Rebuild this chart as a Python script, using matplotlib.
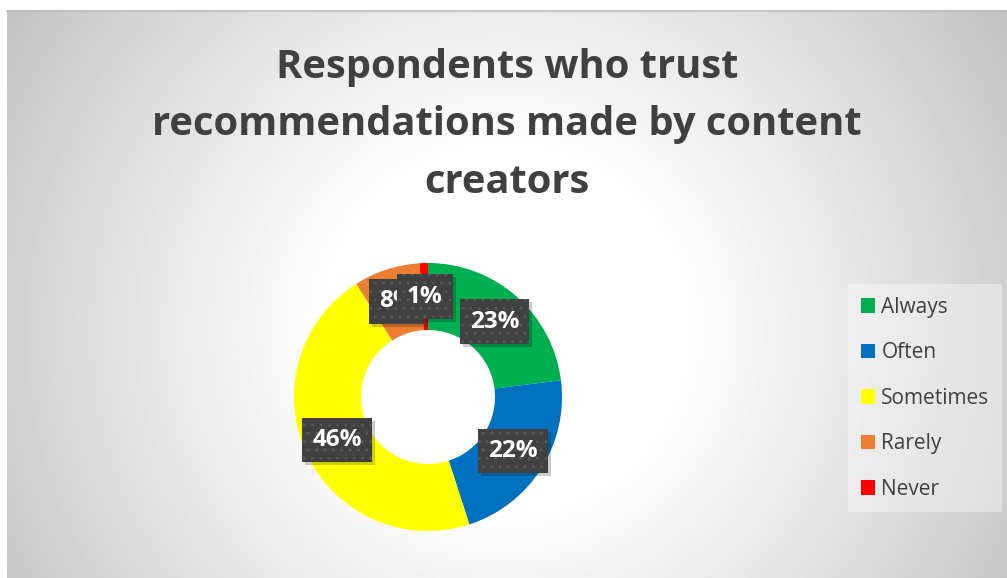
import numpy as np
import matplotlib
matplotlib.use("Agg")
import matplotlib.pyplot as plt
from matplotlib.patches import Patch
from matplotlib.transforms import offset_copy

# Survey answers
categories = ["Always", "Often", "Sometimes", "Rarely", "Never"]
shares = [23, 22, 46, 8, 1]
colors = ["#00B050", "#0070C0", "#FFFF00", "#ED7D31", "#FF0000"]
title = "Respondents who trust\nrecommendations made by content\ncreators"

W, H = 1007, 578
fig = plt.figure(figsize=(W / 100, H / 100), dpi=100, facecolor="white")

# Chart area with a soft radial grey gradient
bg = fig.add_axes([0, 0, 1, 1])
bg.set_xlim(0, W)
bg.set_ylim(H, 0)
bg.axis("off")
x0, x1, y0, y1 = 7, W, 10, H
xx, yy = np.meshgrid(np.linspace(x0, x1, 500), np.linspace(y0, y1, 300))
t = np.hypot((xx - 505) / 520, (yy - 330) / 520)
g = np.clip(255 - 75 * (t - 0.35), 190, 255) / 255
bg.imshow(g, cmap="gray", vmin=0, vmax=1, extent=(x0, x1, y1, y0),
          aspect="auto", interpolation="bilinear", zorder=0)
bg.plot([x0, x1], [y0 + 0.5, y0 + 0.5], color="#bdbdbd", lw=1.2, zorder=1)

fig.text(0.5 * (x0 + x1) / W, 1 - 125 / H, title, ha="center", va="center",
         fontsize=28.7, fontweight="bold", color="#404040",
         family="Open Sans", linespacing=1.62)

# Donut
cx, cy, r = 428, 397, 134
ax = fig.add_axes([(cx - r) / W, (H - cy - r) / H, 2 * r / W, 2 * r / H])
wedges, _ = ax.pie(shares, colors=colors, startangle=90, counterclock=False,
                   radius=1.0, wedgeprops=dict(width=0.5, linewidth=0))
ax.set_xlim(-1, 1)
ax.set_ylim(-1, 1)
ax.set_aspect("equal")

for w, v in zip(wedges, shares):
    ang = np.deg2rad(0.5 * (w.theta1 + w.theta2))
    px, py = 0.75 * np.cos(ang), 0.75 * np.sin(ang)
    label = f"{v}%"
    shadow_tr = offset_copy(ax.transData, fig=fig, x=3, y=-3, units="dots")
    ax.text(px, py, label, transform=shadow_tr, ha="center", va="center",
            fontsize=17.5, fontweight="bold", family="Open Sans", color="none",
            bbox=dict(boxstyle="square,pad=0.42", facecolor="black",
                      alpha=0.2, linewidth=0), zorder=5)
    ax.text(px, py, label, ha="center", va="center", fontsize=17.5,
            fontweight="bold", family="Open Sans", color="white",
            bbox=dict(boxstyle="square,pad=0.42", facecolor="#404040",
                      edgecolor="#555555", linewidth=0, hatch=".."),
            zorder=6)

# Legend
handles = [Patch(facecolor=c, edgecolor="none") for c in colors]
leg = fig.legend(handles, categories, loc="upper left",
                 bbox_to_anchor=(848 / W, 1 - 284 / H), frameon=True,
                 prop=dict(family="Open Sans", size=15),
                 handlelength=0.7, handleheight=0.7, handletextpad=0.3,
                 labelspacing=1.18, borderpad=0.6, borderaxespad=0)
leg.get_frame().set_facecolor("white")
leg.get_frame().set_alpha(0.35)
leg.get_frame().set_edgecolor("none")
leg.get_frame().set_boxstyle("square", pad=0)
for txt in leg.get_texts():
    txt.set_color("#404040")

fig.savefig("out.png", dpi=100, facecolor="white")
